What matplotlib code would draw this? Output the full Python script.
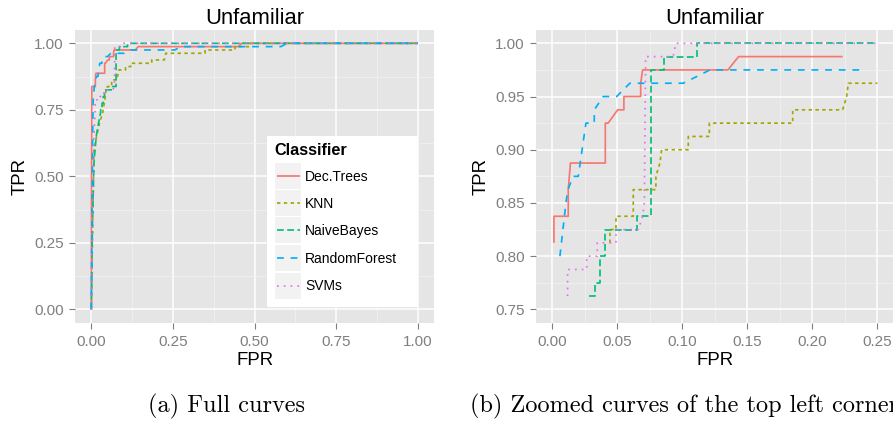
import numpy as np
import matplotlib
matplotlib.use('Agg')
import matplotlib.pyplot as plt
from matplotlib.lines import Line2D
from matplotlib.patches import Rectangle
from matplotlib.ticker import FormatStrFormatter

plt.rcParams['font.family'] = ['Liberation Sans', 'DejaVu Sans']
plt.rcParams['lines.scale_dashes'] = False

# ROC points (FPR, TPR)
classifiers = ['Dec.Trees', 'KNN', 'NaiveBayes', 'RandomForest', 'SVMs']

dt_fpr = [0, 0.0, 0.0013, 0.0013, 0.0123, 0.0123, 0.014, 0.0408, 0.0408, 0.043, 0.0503, 0.0551,
          0.0551, 0.068, 0.068, 0.0695, 0.1351, 0.1433, 0.2233, 0.45, 0.46, 1.0]
dt_tpr = [0, 0.40, 0.8125, 0.8375, 0.8375, 0.8625, 0.8875, 0.8875, 0.925, 0.925, 0.9375, 0.9375,
          0.95, 0.95, 0.9625, 0.975, 0.975, 0.9875, 0.9875, 0.9875, 1.0, 1.0]

knn_fpr = [0, 0.004, 0.008, 0.016, 0.025, 0.035, 0.0444, 0.0444, 0.049, 0.049, 0.0623, 0.0623,
           0.0797, 0.0797, 0.0828, 0.0841, 0.1046, 0.1046, 0.1208, 0.1208, 0.1849, 0.1849,
           0.2233, 0.2264, 0.2277, 0.25, 0.348, 0.348, 0.44, 0.44, 0.486, 0.486, 1.0]
knn_tpr = [0, 0.30, 0.60, 0.65, 0.70, 0.74, 0.8125, 0.825, 0.825, 0.8375, 0.8375, 0.8625,
           0.8625, 0.875, 0.8875, 0.90, 0.90, 0.9125, 0.9125, 0.925, 0.925, 0.9375,
           0.9375, 0.95, 0.9625, 0.9625, 0.9625, 0.975, 0.975, 0.9875, 0.9875, 1.0, 1.0]

nb_fpr = [0, 0.003, 0.008, 0.015, 0.022, 0.0285, 0.0285, 0.0328, 0.0328, 0.0367, 0.0367, 0.0405,
          0.0405, 0.0654, 0.0654, 0.0757, 0.0757, 0.0859, 0.0859, 0.111, 0.111, 0.25, 1.0]
nb_tpr = [0, 0.30, 0.55, 0.65, 0.70, 0.74, 0.7625, 0.7625, 0.775, 0.775, 0.80, 0.80,
          0.825, 0.825, 0.8375, 0.8375, 0.975, 0.975, 0.9875, 0.9875, 1.0, 1.0, 1.0]

rf_fpr = [0, 0.002, 0.004, 0.0059, 0.0105, 0.012, 0.0162, 0.020, 0.0259, 0.0323, 0.0323, 0.0392,
          0.0495, 0.0597, 0.1008, 0.1213, 0.2405, 0.2555, 0.275, 0.58, 0.60, 1.0]
rf_tpr = [0, 0.35, 0.65, 0.80, 0.85, 0.8625, 0.875, 0.875, 0.925, 0.925, 0.9375, 0.95,
          0.95, 0.9625, 0.9625, 0.975, 0.975, 0.975, 0.9875, 0.9875, 1.0, 1.0]

svm_fpr = [0, 0.002, 0.006, 0.0118, 0.0118, 0.0118, 0.0265, 0.0265, 0.0346, 0.0346, 0.0444, 0.049,
           0.049, 0.0662, 0.0695, 0.0708, 0.0718, 0.093, 0.095, 0.25, 1.0]
svm_tpr = [0, 0.30, 0.60, 0.74, 0.7625, 0.7875, 0.7875, 0.80, 0.80, 0.8125, 0.8125, 0.8125,
           0.825, 0.825, 0.8375, 0.85, 0.9875, 0.9875, 1.0, 1.0, 1.0]

curves = [(dt_fpr, dt_tpr), (knn_fpr, knn_tpr), (nb_fpr, nb_tpr), (rf_fpr, rf_tpr), (svm_fpr, svm_tpr)]

colors = ['#F8766D', '#A3A500', '#00BF7D', '#00B0F6', '#E76BF3']
dashes = [None, (2.45, 2.45), (4.9, 2.45), (4.9, 4.9), (1.22, 3.67)]
LW = 1.22

W, H = 893, 422
fig = plt.figure(figsize=(W / 100, H / 100), dpi=100)


def fx(px):
    return px / W


def fy(py):
    return 1 - py / H


def style(ax, xmaj, ymaj, xmin, ymin, xlim, ylim):
    ax.set_facecolor('#E5E5E5')
    for s in ax.spines.values():
        s.set_visible(False)
    ax.set_xlim(*xlim)
    ax.set_ylim(*ylim)
    ax.set_xticks(xmaj)
    ax.set_yticks(ymaj)
    ax.set_xticks(xmin, minor=True)
    ax.set_yticks(ymin, minor=True)
    ax.xaxis.set_major_formatter(FormatStrFormatter('%.2f'))
    ax.yaxis.set_major_formatter(FormatStrFormatter('%.2f'))
    ax.grid(which='major', color='white', lw=1.1)
    ax.grid(which='minor', color='#F2F2F2', lw=0.55)
    ax.set_axisbelow(True)
    ax.tick_params(which='major', length=4.3, width=0.8, color='#7F7F7F',
                   labelcolor='#7F7F7F', labelsize=11)
    ax.tick_params(axis='x', which='major', pad=4.5)
    ax.tick_params(axis='y', which='major', pad=3.8)
    ax.tick_params(which='minor', length=0)
    ax.set_title('Unfamiliar', fontsize=15.8, pad=4.3)


def draw(ax, clip=None):
    for (f, t), c, d in zip(curves, colors, dashes):
        f = np.array(f, dtype=float)
        t = np.array(t, dtype=float)
        if clip is not None:
            # drop points outside the zoom window, like ggplot scale limits
            bad = (f < clip[0]) | (f > clip[1]) | (t < clip[2]) | (t > clip[3])
            f[bad] = np.nan
            t[bad] = np.nan
        ln, = ax.plot(f, t, color=c, lw=LW, solid_capstyle='butt', dash_capstyle='butt')
        if d is not None:
            ln.set_dashes(d)


# (a) full curves
ax1 = fig.add_axes([fx(75), fy(322.7), 359.3 / W, 292.7 / H])
style(ax1, np.arange(0, 1.01, 0.25), np.arange(0, 1.01, 0.25),
      np.arange(0.125, 1, 0.25), np.arange(0.125, 1, 0.25), (-0.05, 1.05), (-0.05, 1.05))
draw(ax1)

# (b) zoom on top left corner
ax2 = fig.add_axes([fx(536), fy(322.7), 357.6 / W, 292.7 / H])
style(ax2, np.arange(0, 0.26, 0.05), np.arange(0.75, 1.001, 0.05),
      np.arange(0.025, 0.26, 0.05), np.arange(0.775, 1.0, 0.05), (-0.0125, 0.2625), (0.7375, 1.0125))
draw(ax2, clip=(0, 0.25, 0.75, 1.0))

for ax, yl in [(ax1, (20 - 75) / 359.3), (ax2, (481 - 536) / 357.6)]:
    ax.set_xlabel('FPR', fontsize=13.4, va='baseline')
    ax.xaxis.set_label_coords(0.5, (322.7 - 365) / 292.7)
    ax.set_ylabel('TPR', fontsize=13.4, va='center')
    ax.yaxis.set_label_coords(yl, 0.5)

# legend box
fig.add_artist(Rectangle((fx(267.3), fy(306.7)), (417.7 - 267.3) / W, (306.7 - 136) / H,
                         transform=fig.transFigure, fc='white', ec='none', zorder=5))
fig.text(fx(274), fy(155), 'Classifier', fontsize=11.7, fontweight='bold', va='baseline', zorder=6)
rows = [175.8, 203, 230.3, 258, 285.5]
for name, c, d, yc in zip(classifiers, colors, dashes, rows):
    fig.add_artist(Rectangle((fx(275), fy(yc + 13)), 25.7 / W, 26 / H,
                             transform=fig.transFigure, fc='#F2F2F2', ec='none', zorder=6))
    ln = Line2D([fx(276.5), fx(299.5)], [fy(yc), fy(yc)], transform=fig.transFigure,
                color=c, lw=LW, solid_capstyle='butt', dash_capstyle='butt', zorder=7)
    if d is not None:
        ln.set_dashes(d)
    fig.add_artist(ln)
    fig.text(fx(305), fy(yc + 5), name, fontsize=10, va='baseline', zorder=7)

# sub-captions
fig.text(fx(148), fy(412.7), '(a) Full curves', family='cmr10', fontsize=17.5, va='baseline')
fig.text(fx(470), fy(412.7), '(b) Zoomed curves of the top left corner', family='cmr10',
         fontsize=17.5, va='baseline')

fig.savefig('out.png', dpi=100, facecolor='white')
